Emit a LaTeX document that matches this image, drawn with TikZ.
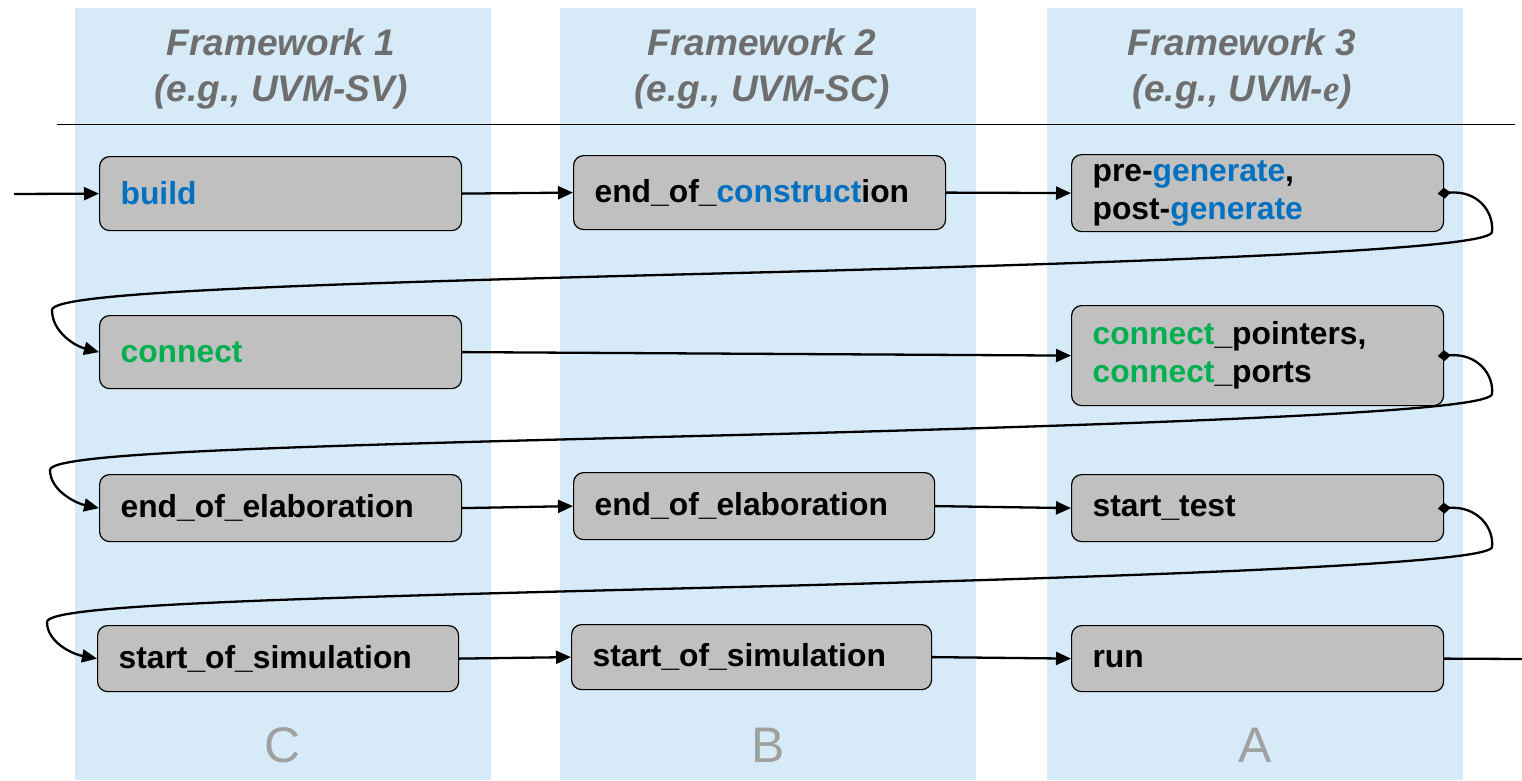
\documentclass[tikz,border=0pt]{standalone}
\usepackage{fontspec}
\setmainfont{Liberation Sans}
\newfontfamily\serifface{Liberation Serif}
\usetikzlibrary{arrows.meta}
\definecolor{lane}{RGB}{214,234,248}
\definecolor{boxgray}{RGB}{192,192,192}
\definecolor{hdrgray}{RGB}{110,110,110}
\definecolor{lettergray}{RGB}{160,160,160}
\definecolor{kwblue}{RGB}{0,112,192}
\definecolor{kwgreen}{RGB}{0,176,80}
\newcommand{\kb}[1]{{\color{kwblue}#1}}
\newcommand{\kg}[1]{{\color{kwgreen}#1}}
\begin{document}
\begin{tikzpicture}[x=1pt,y=-1pt,
  stage/.style={draw=black, line width=1.2pt, fill=boxgray, rounded corners=10pt,
    anchor=north west, inner xsep=21pt, inner ysep=0pt, align=left,
    font=\fontsize{31.8}{38}\selectfont\bfseries},
  hdr/.style={text=hdrgray, align=center,
    font=\fontsize{37}{46}\selectfont\bfseries\itshape},
  letter/.style={text=lettergray, font=\fontsize{50}{50}\selectfont},
  flow/.style={line width=2.3pt, -{Triangle[length=15pt,width=13pt]}},
  loopback/.style={line width=2.3pt, {Diamond[length=13pt,width=11pt]}-{Triangle[length=15pt,width=13pt]},
    shorten <=-6.5pt}]
\useasboundingbox (0,0) rectangle (1522,780);

% framework lanes
\fill[lane] (75,8) rectangle (491,780);
\fill[lane] (560,8) rectangle (976,780);
\fill[lane] (1047,8) rectangle (1463,780);

% lane headings
\node[hdr] (h1) at (281,69) {Framework 1\\(e.g., UVM-SV)};
\node[hdr] (h2) at (762,69) {Framework 2\\(e.g., UVM-SC)};
\node[hdr] (h3) at (1242,69) {Framework 3\\(e.g., UVM-{\serifface\bfseries\itshape e})};
\draw[line width=1pt] (57,124) -- (1515,124);

% lane letters
\node[letter] (lc) at (283,745) {C};
\node[letter] (lb) at (768,745) {B};
\node[letter] (la) at (1255,745) {A};

% phase boxes
\node[stage, text width=320pt, minimum height=74pt] (build) at (99,156) {\kb{build}};
\node[stage, text width=330pt, minimum height=74pt] (eoc) at (573,155) {end\_of\_\kb{construct}ion};
\node[stage, text width=330pt, minimum height=77pt] (gen) at (1071,154) {pre-\kb{generate},\\post-\kb{generate}};

\node[stage, text width=320pt, minimum height=73pt] (conn) at (99,315) {\kg{connect}};
\node[stage, text width=330pt, minimum height=100pt] (cp) at (1071,305) {\kg{connect}\_pointers,\\\kg{connect}\_ports};

\node[stage, text width=320pt, minimum height=67pt] (eoe1) at (99,474) {end\_of\_elaboration};
\node[stage, text width=319pt, minimum height=67pt] (eoe2) at (573,472) {end\_of\_elaboration};
\node[stage, text width=330pt, minimum height=67pt] (st) at (1071,474) {start\_test};

\node[stage, text width=319pt, minimum height=66pt] (sos1) at (97,625) {start\_of\_simulation};
\node[stage, text width=318pt, minimum height=65pt] (sos2) at (571,624) {start\_of\_simulation};
\node[stage, text width=330pt, minimum height=66pt] (run) at (1071,625) {run};

% entry and exit points
\coordinate (entry) at (14,194);
\coordinate (exit) at (1522,659);

% straight transitions
\draw[flow] (entry) -- (build.west);
\draw[flow] (build.east) -- (eoc.west);
\draw[flow] (eoc.east) -- (gen.west);
\draw[flow] (conn.east) -- (cp.west);
\draw[flow] (eoe1.east) -- (eoe2.west);
\draw[flow] (eoe2.east) -- (st.west);
\draw[flow] (sos1.east) -- (sos2.west);
\draw[flow] (sos2.east) -- (run.west);
\draw[line width=2.3pt] (run.east) -- (exit);

% wrap-around transitions between rows
\draw[loopback] (gen.east) .. controls (1478,190) and (1494,212) .. (1492,232)
  .. controls (1490,246) and (1300,258) .. (776,272)
  .. controls (300,284) and (52,292) .. (52,310)
  .. controls (52,332) and (75,346) .. (conn.west);
\draw[loopback] (cp.east) .. controls (1478,353) and (1494,375) .. (1492,394)
  .. controls (1490,408) and (1300,420) .. (776,434)
  .. controls (300,446) and (50,452) .. (50,470)
  .. controls (50,490) and (75,503) .. (eoe1.west);
\draw[loopback] (st.east) .. controls (1478,506) and (1494,528) .. (1492,547)
  .. controls (1490,560) and (1300,572) .. (776,586)
  .. controls (300,598) and (47,604) .. (47,622)
  .. controls (47,642) and (72,654) .. (sos1.west);
\end{tikzpicture}
\end{document}
